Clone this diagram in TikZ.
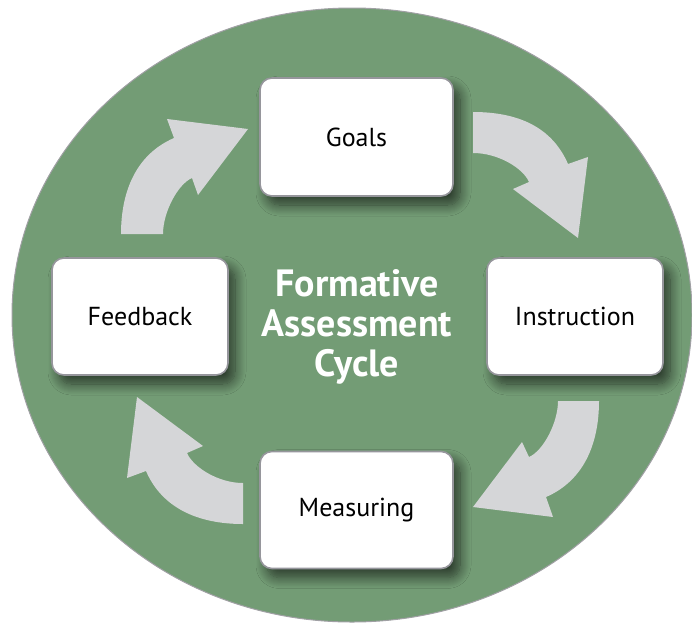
\documentclass[tikz,border=0pt]{standalone}
\usepackage{fontspec}
\setmainfont{PT Sans}
\usetikzlibrary{shadows.blur}
\definecolor{bggreen}{RGB}{115,156,117}
\definecolor{rimgray}{RGB}{160,160,164}
\definecolor{arrowgray}{RGB}{213,214,216}
\definecolor{boxedge}{RGB}{150,150,156}
\tikzset{
  stagebox/.style={draw=boxedge, line width=1.6pt, fill=white, rounded corners=12pt,
    font=\fontsize{26}{30}\selectfont, text=black, inner sep=0pt,
    blur shadow={shadow xshift=7pt, shadow yshift=-9pt, shadow blur radius=11pt, shadow blur steps=12, shadow opacity=62}},
  cyclearrow/.style={fill=arrowgray, draw=none},
  titletext/.style={text=white, font=\fontsize{38}{40}\selectfont\bfseries, align=center}
}
\begin{document}
\begin{tikzpicture}[x=1pt,y=-1pt]
\useasboundingbox (0,0) rectangle (692,624);
% background ellipse
\fill[bggreen, draw=rimgray, line width=1pt] (352,315) ellipse [x radius=340, y radius=307];

% arrows
% Feedback -> Goals
\path[cyclearrow] (121,234) .. controls (121,190) and (137,154) .. (174,138)
  -- (167,119) -- (248,129) -- (198,195) -- (192,178)
  .. controls (178,184) and (163,212) .. (163,234) -- cycle;
% Goals -> Instruction
\path[cyclearrow] (473,112) .. controls (518,112) and (552,127) .. (568,164)
  -- (588,157) -- (578,238) -- (513,189) -- (529,182)
  .. controls (523,168) and (498,153) .. (473,153) -- cycle;
% Instruction -> Measuring
\path[cyclearrow] (599,401) .. controls (599,445) and (583,481) .. (546,497)
  -- (553,517) -- (473,507) -- (522,442) -- (529,457)
  .. controls (543,451) and (558,423) .. (558,401) -- cycle;
% Measuring -> Feedback
\path[cyclearrow] (243,524) .. controls (198,524) and (162,508) .. (146,471)
  -- (127,478) -- (137,397) -- (203,446) -- (187,453)
  .. controls (193,467) and (218,483) .. (243,483) -- cycle;

% boxes
\node[stagebox, minimum width=193pt, minimum height=118pt] (goals) at (356.5,137) {Goals};
\node[stagebox, minimum width=176pt, minimum height=117pt] (instruction) at (575,316.5) {Instruction};
\node[stagebox, minimum width=176pt, minimum height=117pt] (feedback) at (140,316.5) {Feedback};
\node[stagebox, minimum width=193pt, minimum height=117pt] (measuring) at (356.5,510) {Measuring};

% title
\node[titletext] (title) at (357,327) {Formative\\Assessment\\Cycle};
\end{tikzpicture}
\end{document}
